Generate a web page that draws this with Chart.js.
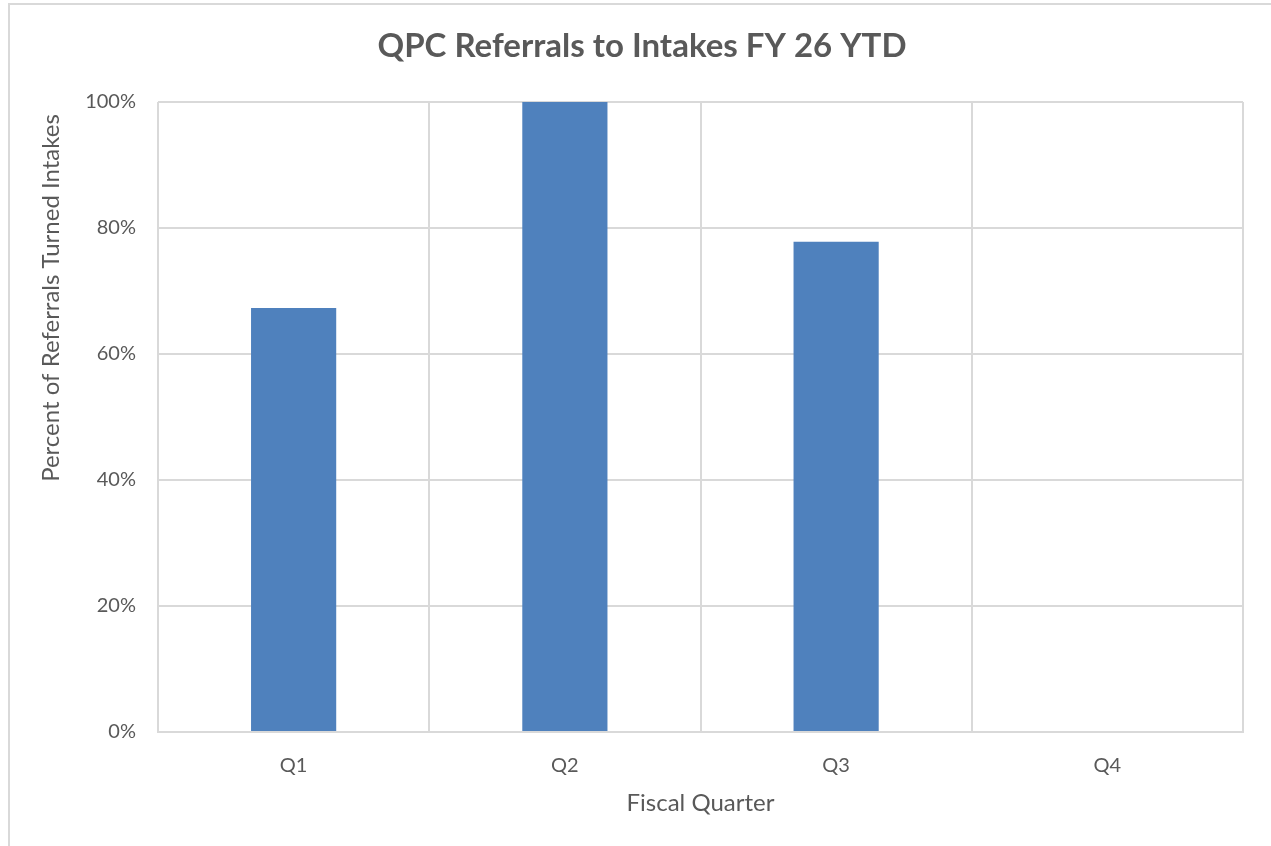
<!DOCTYPE html>
<html>
<head>
<meta charset="utf-8">
<script src="https://cdn.jsdelivr.net/npm/chart.js@4"></script>
<style>
  html, body { margin: 0; padding: 0; background: #fff; overflow: hidden; }
  #frame { position: absolute; left: 8px; top: 3px; width: 1300px; height: 900px; border: 2px solid #d9d9d9; box-sizing: border-box; }
  #wrap { position: absolute; left: 0; top: 0; width: 1271px; height: 846px; }
</style>
</head>
<body>
<div id="frame"></div>
<div id="wrap"><canvas id="chart" width="1271" height="846"></canvas></div>
<script>
const categories = ['Q1', 'Q2', 'Q3', 'Q4'];
const percentIntakes = [67.3, 100, 77.8, null];
const yTicks = [0, 20, 40, 60, 80, 100];

const chartTitle = 'QPC Referrals to Intakes FY 26 YTD';
const xTitle = 'Fiscal Quarter';
const yTitle = 'Percent of Referrals Turned Intakes';

const textColor = '#595959';
const gridColor = '#d9d9d9';
const fontFamily = 'Lato, "Open Sans", sans-serif';

// titles drawn by hand so they sit where the original has them
const titlesPlugin = {
    id: 'titles',
    afterDraw(chart) {
        const ctx = chart.ctx;
        const area = chart.chartArea;
        ctx.save();
        ctx.fillStyle = textColor;
        ctx.textAlign = 'center';
        ctx.textBaseline = 'middle';

        ctx.font = 'bold 33px ' + fontFamily;
        ctx.fillText(chartTitle, 642, 46);

        ctx.font = '24px ' + fontFamily;
        ctx.fillText(xTitle, (area.left + area.right) / 2, 803);

        ctx.translate(51, 298);
        ctx.rotate(-Math.PI / 2);
        ctx.fillText(yTitle, 0, 0);
        ctx.restore();
    }
};

new Chart(document.getElementById('chart'), {
    type: 'bar',
    data: {
        labels: categories,
        datasets: [{
            label: 'Percent',
            data: percentIntakes,
            backgroundColor: '#4f81bd',
            borderWidth: 0,
            barPercentage: 0.314,
            categoryPercentage: 1
        }]
    },
    options: {
        responsive: false,
        animation: false,
        devicePixelRatio: 1,
        layout: { padding: { left: 0, right: 28, top: 102, bottom: 0 } },
        plugins: {
            legend: { display: false },
            title: { display: false },
            tooltip: { enabled: false }
        },
        scales: {
            x: {
                grid: { color: gridColor, lineWidth: 2, offset: true, drawTicks: false },
                border: { color: gridColor, width: 2 },
                ticks: {
                    color: textColor,
                    font: { family: fontFamily, size: 20 },
                    padding: 22
                },
                afterFit(scale) { scale.height = 114; }
            },
            y: {
                min: 0,
                max: 100,
                afterBuildTicks(scale) { scale.ticks = yTicks.map(v => ({ value: v })); },
                grid: { color: gridColor, lineWidth: 2, drawTicks: false },
                border: { display: false },
                ticks: {
                    color: textColor,
                    font: { family: fontFamily, size: 20 },
                    padding: 22,
                    callback: v => v + '%'
                },
                afterFit(scale) { scale.width = 158; }
            }
        }
    },
    plugins: [titlesPlugin]
});
</script>
</body>
</html>
